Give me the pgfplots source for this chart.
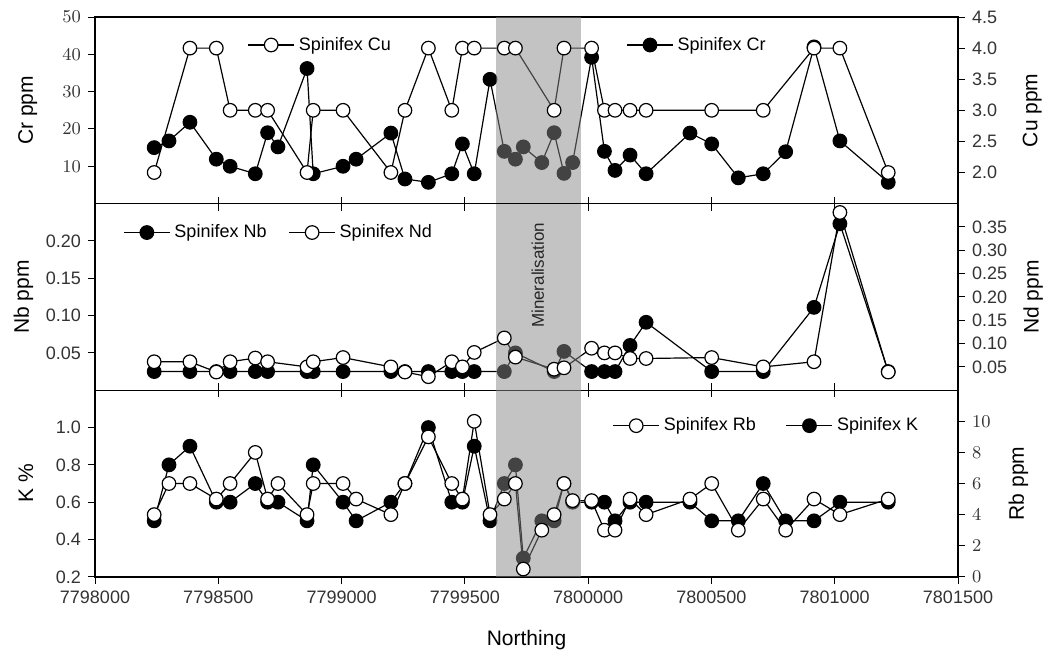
\documentclass[border=0pt]{standalone}
\usepackage{fontspec}
\setmainfont{Liberation Sans}
\usepackage{pgfplots}
\pgfplotsset{compat=1.18}

\pgfplotsset{
  panel/.style={
    scale only axis, width=431.5pt, height=93.3pt,
    xmin=7798000, xmax=7801500,
    xtick={7798000,7798500,7799000,7799500,7800000,7800500,7801000,7801500},
    scaled x ticks=false, scaled y ticks=false,
    clip=false,
    major tick length=3.5pt,
    tick style={black, line width=0.5pt},
    axis line style={line width=0.7pt},
    tick label style={font=\fontsize{9}{10}\selectfont, text=black!80},
    label style={font=\fontsize{10.5}{12}\selectfont},
    legend style={draw=none, fill=none, font=\fontsize{9}{10}\selectfont,
      legend columns=-1, inner sep=1pt},
    legend cell align=left,
    legend image code/.code={\draw[mark repeat=2,mark phase=2,##1]
      plot coordinates {(0pt,0pt) (11.5pt,0pt) (23pt,0pt)};},
  },
  leftpanel/.style={panel, ytick pos=left, ytick align=outside, xtick align=inside, xticklabels={}},
  rightpanel/.style={panel, axis y line*=right, axis x line=none, ytick align=outside},
  filled/.style={black, line width=0.6pt, mark=*, mark size=3.4pt,
    mark options={fill=black, draw=black, solid}},
  hollow/.style={black, line width=0.6pt, mark=*, mark size=3.4pt,
    mark options={fill=white, draw=black, solid}},
  band/.style={draw=none, fill=black!47, fill opacity=0.5, forget plot},
}

\begin{document}
\begin{tikzpicture}

% ---------- top panel: Cr (left) and Cu (right)
\begin{axis}[leftpanel, at={(0pt,0pt)}, xtick pos=bottom,
  ymin=0, ymax=50, ytick={10,20,30,40,50},
  ylabel={Cr ppm}, ylabel style={at={(rel axis cs:-0.078,0.5)}, anchor=center},
  legend style={at={(0.613,0.85)}, anchor=west}]
\addplot[filled] coordinates {(7798240,15) (7798300,16.8) (7798385,21.8) (7798492,11.9) (7798548,10) (7798650,8) (7798700,19) (7798742,15.2) (7798860,36.2) (7798885,8) (7799006,10) (7799059,11.9) (7799200,18.9) (7799257,6.6) (7799352,5.7) (7799447,8) (7799490,16) (7799538,8) (7799602,33.3) (7799660,14) (7799705,11.9) (7799737,15.2) (7799812,11) (7799862,19) (7799902,8.1) (7799937,11) (7800014,39.2) (7800066,14) (7800109,8.9) (7800170,13) (7800235,8) (7800413,18.9) (7800501,16) (7800609,6.9) (7800710,8) (7800801,13.9) (7800916,42) (7801021,16.8) (7801217,5.7)};
\addlegendentry{Spinifex Cr}
\end{axis}
\begin{axis}[rightpanel, at={(0pt,0pt)},
  ymin=1.5, ymax=4.5, ytick={2.0,2.5,3.0,3.5,4.0,4.5},
  yticklabels={2.0,2.5,3.0,3.5,4.0,4.5},
  ylabel={Cu ppm}, ylabel style={at={(rel axis cs:1.086,0.5)}, anchor=center},
  legend style={at={(0.174,0.85)}, anchor=west}]
\addplot[hollow] coordinates {(7798240,2.0) (7798385,4.0) (7798492,4.0) (7798548,3.0) (7798650,3.0) (7798700,3.0) (7798860,2.0) (7798885,3.0) (7799006,3.0) (7799200,2.0) (7799257,3.0) (7799352,4.0) (7799447,3.0) (7799490,4.0) (7799538,4.0) (7799660,4.0) (7799705,4.0) (7799862,3.0) (7799902,4.0) (7800014,4.0) (7800066,3.0) (7800109,3.0) (7800170,3.0) (7800235,3.0) (7800501,3.0) (7800710,3.0) (7800916,4.0) (7801021,4.0) (7801217,2.0)};
\addlegendentry{Spinifex Cu}
\addplot[band] coordinates {(7799626,1.5) (7799626,4.5) (7799971,4.5) (7799971,1.5)} -- cycle;
\coordinate (TL) at (rel axis cs:0,1);
\end{axis}

% ---------- middle panel: Nb (left) and Nd (right)
\begin{axis}[leftpanel, at={(0pt,-93.3pt)}, xtick pos=both,
  ymin=0, ymax=0.25, ytick={0.05,0.10,0.15,0.20},
  yticklabels={0.05,0.10,0.15,0.20},
  ylabel={Nb ppm}, ylabel style={at={(rel axis cs:-0.083,0.5)}, anchor=center}]
\addplot[filled] coordinates {(7798240,0.025) (7798385,0.025) (7798492,0.025) (7798548,0.025) (7798650,0.025) (7798700,0.025) (7798860,0.025) (7798885,0.025) (7799006,0.025) (7799200,0.025) (7799257,0.025) (7799352,0.025) (7799447,0.025) (7799490,0.025) (7799538,0.025) (7799660,0.025) (7799705,0.05) (7799862,0.025) (7799902,0.052) (7800014,0.025) (7800066,0.025) (7800109,0.025) (7800170,0.06) (7800235,0.091) (7800501,0.025) (7800710,0.025) (7800916,0.111) (7801021,0.223) (7801217,0.025)};
\end{axis}
\begin{axis}[rightpanel, at={(0pt,-93.3pt)},
  ymin=0, ymax=0.4, ytick={0.05,0.10,0.15,0.20,0.25,0.30,0.35},
  yticklabels={0.05,0.10,0.15,0.20,0.25,0.30,0.35},
  ylabel={Nd ppm}, ylabel style={at={(rel axis cs:1.087,0.5)}, anchor=center},
  legend style={at={(0.03,0.845)}, anchor=west,
    /tikz/every even column/.append style={column sep=9pt}}]
\addlegendimage{filled}
\addlegendentry{Spinifex Nb}
\addplot[hollow] coordinates {(7798240,0.061) (7798385,0.061) (7798492,0.039) (7798548,0.061) (7798650,0.069) (7798700,0.061) (7798860,0.05) (7798885,0.061) (7799006,0.07) (7799200,0.05) (7799257,0.039) (7799352,0.029) (7799447,0.061) (7799490,0.05) (7799538,0.081) (7799660,0.112) (7799705,0.071) (7799862,0.045) (7799902,0.048) (7800014,0.09) (7800066,0.08) (7800109,0.08) (7800170,0.068) (7800235,0.068) (7800501,0.07) (7800710,0.05) (7800916,0.061) (7801021,0.381) (7801217,0.039)};
\addlegendentry{Spinifex Nd}
\addplot[band] coordinates {(7799626,0) (7799626,0.4) (7799971,0.4) (7799971,0)} -- cycle;
\node[rotate=90, font=\fontsize{8.5}{10}\selectfont, text=black!85] at (rel axis cs:0.513,0.615) {Mineralisation};
\end{axis}

% ---------- bottom panel: K (left) and Rb (right)
\begin{axis}[leftpanel, at={(0pt,-186.6pt)}, xtick pos=top,
  ymin=0.2, ymax=1.2, ytick={0.2,0.4,0.6,0.8,1.0},
  yticklabels={0.2,0.4,0.6,0.8,1.0},
  ylabel={K \%}, ylabel style={at={(rel axis cs:-0.08,0.5)}, anchor=center}]
\addplot[filled] coordinates {(7798240,0.5) (7798300,0.8) (7798385,0.9) (7798492,0.6) (7798548,0.6) (7798650,0.7) (7798700,0.6) (7798742,0.6) (7798860,0.5) (7798885,0.8) (7799006,0.6) (7799059,0.5) (7799200,0.6) (7799257,0.7) (7799352,1.0) (7799447,0.6) (7799490,0.6) (7799538,0.9) (7799602,0.5) (7799660,0.7) (7799705,0.8) (7799737,0.3) (7799812,0.5) (7799862,0.5) (7799902,0.7) (7799937,0.6) (7800014,0.6) (7800066,0.6) (7800109,0.5) (7800170,0.6) (7800235,0.6) (7800413,0.6) (7800501,0.5) (7800609,0.5) (7800710,0.7) (7800801,0.5) (7800916,0.5) (7801021,0.6) (7801217,0.6)};
\end{axis}
\begin{axis}[panel, at={(0pt,-186.6pt)}, axis y line*=right, axis x line*=bottom,
  ytick align=outside, xtick align=outside,
  xticklabels={7798000,7798500,7799000,7799500,7800000,7800500,7801000,7801500},
  xlabel={Northing}, xlabel style={at={(rel axis cs:0.5,-0.338)}, anchor=center},
  ymin=0, ymax=12, ytick={0,2,4,6,8,10},
  ylabel={Rb ppm}, ylabel style={at={(rel axis cs:1.07,0.5)}, anchor=center},
  legend style={at={(0.597,0.81)}, anchor=west,
    /tikz/every even column/.append style={column sep=13pt}}]
\addplot[hollow] coordinates {(7798240,4) (7798300,6) (7798385,6) (7798492,5) (7798548,6) (7798650,8) (7798700,5) (7798742,6) (7798860,4) (7798885,6) (7799006,6) (7799059,5) (7799200,4) (7799257,6) (7799352,9) (7799447,6) (7799490,5) (7799538,10) (7799602,4) (7799660,5) (7799705,6) (7799737,0.5) (7799812,3) (7799862,4) (7799902,6) (7799937,4.9) (7800014,4.9) (7800066,3) (7800109,3) (7800170,5) (7800235,4) (7800413,5) (7800501,6) (7800609,3) (7800710,5) (7800801,3) (7800916,5) (7801021,4) (7801217,5)};
\addlegendentry{Spinifex Rb}
\addlegendimage{filled}
\addlegendentry{Spinifex K}
\addplot[band] coordinates {(7799626,0) (7799626,12) (7799971,12) (7799971,0)} -- cycle;
\coordinate (BR) at (rel axis cs:1,0);
\end{axis}

\pgfresetboundingbox
\path ([shift={(-47.5pt,8.5pt)}]TL) rectangle ([shift={(46.5pt,-39.5pt)}]BR);
\end{tikzpicture}
\end{document}
